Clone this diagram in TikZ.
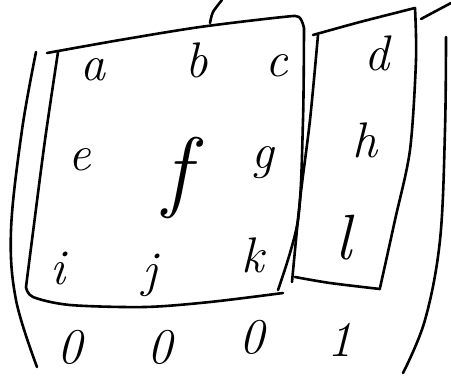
\documentclass[tikz,border=0pt]{standalone}
\usetikzlibrary{calc}
\begin{document}
\begin{tikzpicture}[x=1pt,y=-1pt,
  pen/.style={line width=2.6pt,line cap=round,line join=round},
  entry/.style={font=\fontsize{50}{50}\selectfont\itshape,inner sep=0pt}]
\useasboundingbox (0,0) rectangle (451,381);
% brackets
\draw[pen] plot[smooth,tension=0.6] coordinates {(36,52) (22,130) (11,230) (16,300) (37,367)};
\draw[pen] plot[smooth,tension=0.6] coordinates {(446,37) (445,130) (440,240) (425,320) (403,373)};
\draw[pen] plot[smooth] coordinates {(210,23) (213,12) (222,0)};
\draw[pen] (421,19) -- (451,3);
% left box
\draw[pen] plot[smooth,tension=0.5] coordinates {(47,53) (120,40) (200,27) (283,17) (299,17) (304,28)};
\draw[pen] plot[smooth,tension=0.5] coordinates {(304,28) (303,120) (298,220) (278,290)};
\draw[pen] plot[smooth,tension=0.5] coordinates {(58,52) (45,140) (32,240) (26,287)};
\draw[pen] plot[smooth,tension=0.5] coordinates {(26,287) (33,297) (70,305) (145,307) (210,302) (283,293)};
% right box
\draw[pen] plot[smooth,tension=0.5] coordinates {(313,35) (360,22) (415,8)};
\draw[pen] plot[smooth,tension=0.5] coordinates {(415,8) (416,60) (410,150) (395,220) (380,288)};
\draw[pen] plot[smooth,tension=0.5] coordinates {(318,35) (310,120) (300,200) (292,282)};
\draw[pen] plot[smooth,tension=0.5] coordinates {(295,277) (330,283) (380,289)};
% entries
\node[entry] (a) at (93,70) {a};
\node[entry] (b) at (197,60) {b};
\node[entry] (c) at (277,66) {c};
\node[entry] (d) at (377,53) {d};
\node[entry] (e) at (80,160) {e};
\node[entry,font=\fontsize{90}{90}\selectfont\itshape] (f) at (177,178) {f};
\node[entry] (g) at (263,163) {g};
\node[entry] (h) at (365,140) {h};
\node[entry] (i) at (58,268) {i};
\node[entry] (j) at (150,275) {j};
\node[entry] (k) at (253,255) {k};
\node[entry,font=\fontsize{64}{64}\selectfont\itshape] (l) at (343,238) {l};
\node[entry] (z1) at (70,347) {0};
\node[entry] (z2) at (160,347) {0};
\node[entry] (z3) at (252,337) {0};
\node[entry] (o4) at (340,340) {1};
\end{tikzpicture}
\end{document}
